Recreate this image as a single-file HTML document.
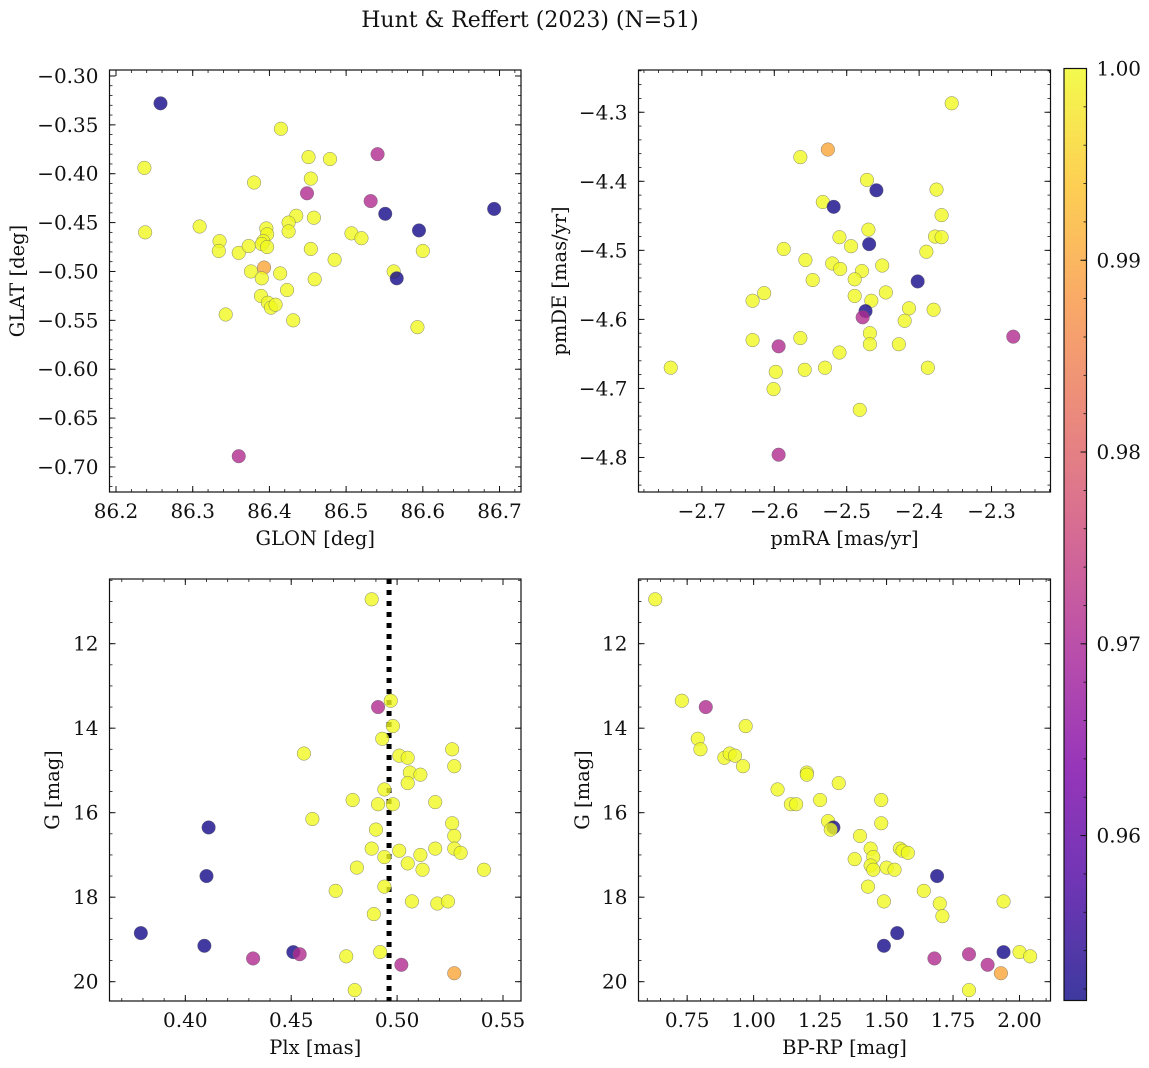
<!DOCTYPE html>
<html><head><meta charset="utf-8"><style>
body{margin:0;background:#fff;}
svg{display:block;font-family:"DejaVu Serif","Liberation Serif",serif;}
</style></head><body>
<svg id="fig" width="1149" height="1068" viewBox="0 0 1149 1068" xmlns="http://www.w3.org/2000/svg">
<text x="530" y="27" font-size="22" text-anchor="middle" fill="#111">Hunt &amp; Reffert (2023) (N=51)</text>
</svg>
<script>
// ---- Data ----
const glon = [86.258,86.237,86.238,86.309,86.335,86.334,86.360,86.373,86.380,86.415,86.451,86.479,86.454,86.449,86.541,86.532,86.551,86.595,86.693,86.600,86.562,86.566,86.593,86.507,86.520,86.485,86.454,86.459,86.458,86.435,86.425,86.425,86.396,86.397,86.392,86.390,86.397,86.376,86.393,86.390,86.414,86.389,86.398,86.402,86.408,86.423,86.431,86.343,86.360];
const glat = [-0.328,-0.394,-0.460,-0.454,-0.469,-0.479,-0.481,-0.474,-0.409,-0.354,-0.383,-0.385,-0.405,-0.420,-0.380,-0.428,-0.441,-0.458,-0.436,-0.479,-0.500,-0.507,-0.557,-0.461,-0.466,-0.488,-0.477,-0.508,-0.445,-0.443,-0.450,-0.459,-0.456,-0.462,-0.469,-0.472,-0.475,-0.500,-0.496,-0.507,-0.502,-0.525,-0.532,-0.537,-0.534,-0.519,-0.550,-0.544,-0.689];
const prob1 = [0.952,1,1,1,1,1,1,1,1,1,1,1,1,0.971,0.971,0.971,0.952,0.952,0.952,1,1,0.952,1,1,1,1,1,1,1,1,1,1,1,1,1,1,1,1,0.990,1,1,1,1,1,1,1,1,1,0.971];

const pmra = [-2.355,-2.526,-2.564,-2.472,-2.459,-2.376,-2.533,-2.518,-2.369,-2.470,-2.510,-2.494,-2.469,-2.378,-2.369,-2.390,-2.587,-2.557,-2.520,-2.509,-2.479,-2.451,-2.547,-2.489,-2.402,-2.614,-2.630,-2.489,-2.466,-2.446,-2.414,-2.380,-2.474,-2.478,-2.420,-2.468,-2.468,-2.428,-2.630,-2.564,-2.594,-2.270,-2.510,-2.743,-2.598,-2.558,-2.530,-2.388,-2.601,-2.482,-2.594];
const pmde = [-4.287,-4.354,-4.365,-4.398,-4.413,-4.412,-4.430,-4.437,-4.449,-4.470,-4.481,-4.494,-4.491,-4.480,-4.481,-4.502,-4.498,-4.514,-4.519,-4.527,-4.530,-4.522,-4.543,-4.542,-4.545,-4.562,-4.573,-4.566,-4.573,-4.561,-4.584,-4.586,-4.588,-4.597,-4.602,-4.620,-4.636,-4.636,-4.630,-4.627,-4.639,-4.625,-4.648,-4.670,-4.676,-4.673,-4.670,-4.670,-4.701,-4.731,-4.796];
const prob2 = [1,0.990,1,1,0.952,1,1,0.952,1,1,1,1,0.952,1,1,1,1,1,1,1,1,1,1,1,0.952,1,1,1,1,1,1,1,0.952,0.971,1,1,1,1,1,1,0.971,0.971,1,1,1,1,1,1,1,1,0.971];

const plx = [0.488,0.491,0.497,0.498,0.493,0.456,0.501,0.505,0.526,0.527,0.506,0.511,0.505,0.494,0.479,0.491,0.498,0.518,0.460,0.526,0.527,0.490,0.488,0.501,0.494,0.518,0.511,0.527,0.530,0.505,0.481,0.512,0.541,0.494,0.471,0.507,0.519,0.524,0.489,0.492,0.476,0.480,0.502,0.527,0.411,0.410,0.379,0.409,0.451,0.454,0.432];
const gmag3 = [10.95,13.5,13.35,13.95,14.25,14.6,14.65,14.7,14.5,14.9,15.05,15.1,15.3,15.45,15.7,15.8,15.8,15.75,16.15,16.25,16.55,16.4,16.85,16.9,17.05,16.85,17.0,16.85,16.95,17.2,17.3,17.35,17.35,17.75,17.85,18.1,18.15,18.1,18.4,19.3,19.4,20.2,19.6,19.8,16.35,17.5,18.85,19.15,19.3,19.35,19.45];
const prob3 = [1,0.971,1,1,1,1,1,1,1,1,1,1,1,1,1,1,1,1,1,1,1,1,1,1,1,1,1,1,1,1,1,1,1,1,1,1,1,1,1,1,1,1,0.971,0.990,0.952,0.952,0.952,0.952,0.952,0.971,0.971];
const plxLine = [0.4962];

const bprp = [0.63,0.73,0.82,0.97,0.79,0.80,0.89,0.91,0.93,0.96,1.20,1.20,1.32,1.09,1.14,1.16,1.25,1.48,1.48,1.28,1.30,1.29,1.40,1.44,1.45,1.38,1.44,1.45,1.50,1.53,1.55,1.56,1.58,1.43,1.49,1.64,1.69,1.70,1.71,1.94,1.54,1.49,1.68,1.81,1.88,1.93,1.94,2.00,2.04,1.81];
const gmag4 = [10.95,13.35,13.5,13.95,14.25,14.5,14.7,14.6,14.65,14.9,15.05,15.1,15.3,15.45,15.8,15.8,15.7,15.7,16.25,16.2,16.35,16.4,16.55,16.85,17.05,17.1,17.25,17.35,17.3,17.35,16.85,16.9,16.95,17.75,18.1,17.85,17.5,18.15,18.45,18.1,18.85,19.15,19.45,19.35,19.6,19.8,19.3,19.3,19.4,20.2];
const prob4 = [1,1,0.971,1,1,1,1,1,1,1,1,1,1,1,1,1,1,1,1,1,0.952,1,1,1,1,1,1,1,1,1,1,1,1,1,1,1,0.952,1,1,1,0.952,0.952,0.971,0.971,0.971,0.990,0.952,1,1,1];

const cbTicks = [1.00,0.99,0.98,0.97,0.96];
const cbMin = 0.9514, cbMax = 1.0;

// ---- Helpers ----
const NS = "http://www.w3.org/2000/svg";
const svg = document.getElementById('fig');
const TICKFS = 20, LABFS = 19.5;
function mk(tag, attrs, parent){ const e=document.createElementNS(NS,tag); for(const k in attrs) e.setAttribute(k,attrs[k]); (parent||svg).appendChild(e); return e; }
const plasmaStops=[[0,[13,8,135]],[0.125,[75,3,161]],[0.25,[125,3,168]],[0.375,[168,34,150]],[0.5,[203,70,121]],[0.625,[229,107,93]],[0.75,[248,148,65]],[0.875,[253,195,40]],[1,[240,249,33]]];
function plasma(t){ t=Math.max(0,Math.min(1,t)); for(let i=1;i<plasmaStops.length;i++){ if(t<=plasmaStops[i][0]){ const a=plasmaStops[i-1],b=plasmaStops[i]; const f=(t-a[0])/(b[0]-a[0]); const c=a[1].map((v,j)=>Math.round(v+(b[1][j]-v)*f)); return `rgb(${c[0]},${c[1]},${c[2]})`; } } return 'rgb(240,249,33)'; }
function pcolor(p){ return plasma((p-cbMin)/(cbMax-cbMin)); }
function fmt(v,d){ return (v<0?'\u2212':'')+Math.abs(v).toFixed(d); }

function panel(cfg){
  const {L,T,R,B,xmin,xmax,ymin,ymax,invertY} = cfg;
  const g = mk('g',{});
  
  
  const sx = v => L + (v-xmin)/(xmax-xmin)*(R-L);
  const sy = v => invertY ? T + (v-ymin)/(ymax-ymin)*(B-T) : B - (v-ymin)/(ymax-ymin)*(B-T);
  const eps=1e-9;
  function ticks(min,max,step){ const a=[]; for(let v=Math.ceil(min/step-eps)*step; v<=max+eps; v+=step) a.push(+v.toFixed(6)); return a; }
  ticks(xmin,xmax,cfg.xminor).forEach(v=>{ const x=sx(v); mk('line',{x1:x,x2:x,y1:B,y2:B-3,stroke:'#111','stroke-width':0.8},g); mk('line',{x1:x,x2:x,y1:T,y2:T+3,stroke:'#111','stroke-width':0.8},g); });
  ticks(ymin,ymax,cfg.yminor).forEach(v=>{ const y=sy(v); mk('line',{x1:L,x2:L+3,y1:y,y2:y,stroke:'#111','stroke-width':0.8},g); mk('line',{x1:R,x2:R-3,y1:y,y2:y,stroke:'#111','stroke-width':0.8},g); });
  ticks(xmin,xmax,cfg.xmajor).forEach(v=>{ const x=sx(v); mk('line',{x1:x,x2:x,y1:B,y2:B-6,stroke:'#111','stroke-width':1},g); mk('line',{x1:x,x2:x,y1:T,y2:T+6,stroke:'#111','stroke-width':1},g);
    const t=mk('text',{x:x,y:B+26,'font-size':TICKFS,'text-anchor':'middle',fill:'#111'},g); t.textContent=fmt(v,cfg.xdec);
      });
  ticks(ymin,ymax,cfg.ymajor).forEach(v=>{ const y=sy(v); mk('line',{x1:L,x2:L+6,y1:y,y2:y,stroke:'#111','stroke-width':1},g); mk('line',{x1:R,x2:R-6,y1:y,y2:y,stroke:'#111','stroke-width':1},g);
    const t=mk('text',{x:L-11,y:y+7,'font-size':TICKFS,'text-anchor':'end',fill:'#111'},g); t.textContent=fmt(v,cfg.ydec);
      });
  if(cfg.vline){ cfg.vline.forEach(v=>{ const l=mk('line',{x1:sx(v),x2:sx(v),y1:T,y2:B,stroke:'#000','stroke-width':5,'stroke-dasharray':'5 6'},g);
      }); }
  const cp = mk('clipPath',{id:cfg.name+'-clip'},g); mk('rect',{x:L,y:T,width:R-L,height:B-T},cp);
  const pg = mk('g',{'clip-path':`url(#${cfg.name}-clip)`},g);
  cfg.xs.forEach((xv,i)=>{ const c=mk('circle',{cx:sx(xv),cy:sy(cfg.ys[i]),r:6.8,fill:pcolor(cfg.ps[i]),'fill-opacity':0.8,stroke:'#666','stroke-width':0.5,'stroke-opacity':0.8},pg);
      });
  mk('rect',{x:L,y:T,width:R-L,height:B-T,fill:'none',stroke:'#111','stroke-width':1.2},g);
  const xl=mk('text',{x:(L+R)/2,y:B+53,'font-size':LABFS,'text-anchor':'middle',fill:'#111'},g); xl.textContent=cfg.xlabel;
   
  const yl=mk('text',{x:0,y:0,'font-size':LABFS,'text-anchor':'middle',fill:'#111',transform:`translate(${cfg.ylx},${(T+B)/2}) rotate(-90)`},g); yl.textContent=cfg.ylabel;
   
}

panel({name:'glon-glat-panel',L:109.5,T:70,R:521,B:492,xmin:86.1915,xmax:86.728,ymin:-0.7256,ymax:-0.2939,xmajor:0.1,xminor:0.02,ymajor:0.05,yminor:0.01,xdec:1,ydec:2,xs:glon,ys:glat,ps:prob1,xlabel:'GLON [deg]',ylabel:'GLAT [deg]',ylx:24});
panel({name:'proper-motion-panel',L:638.5,T:70,R:1050.5,B:492,xmin:-2.7875,xmax:-2.2186,ymin:-4.850,ymax:-4.2388,xmajor:0.1,xminor:0.02,ymajor:0.1,yminor:0.02,xdec:1,ydec:1,xs:pmra,ys:pmde,ps:prob2,xlabel:'pmRA [mas/yr]',ylabel:'pmDE [mas/yr]',ylx:566});
panel({name:'parallax-mag-panel',L:109.5,T:579,R:521,B:1001,xmin:0.3642,xmax:0.5585,ymin:10.469,ymax:20.457,invertY:true,xmajor:0.05,xminor:0.01,ymajor:2,yminor:0.5,xdec:2,ydec:0,xs:plx,ys:gmag3,ps:prob3,vline:plxLine,xlabel:'Plx [mas]',ylabel:'G [mag]',ylx:59});
panel({name:'cmd-panel',L:638.5,T:579,R:1050.5,B:1001,xmin:0.567,xmax:2.1165,ymin:10.469,ymax:20.457,invertY:true,xmajor:0.25,xminor:0.05,ymajor:2,yminor:0.5,xdec:2,ydec:0,xs:bprp,ys:gmag4,ps:prob4,xlabel:'BP-RP [mag]',ylabel:'G [mag]',ylx:589});

// ---- Colorbar ----
(function(){
  const L=1064,R=1086.5,T=68.5,B=1000.5;
  const g=mk('g',{});
  
  
  const grad=mk('linearGradient',{id:'cbgrad',x1:0,y1:1,x2:0,y2:0},g);
  for(let i=0;i<=16;i++){ const t=i/16; mk('stop',{offset:t,'stop-color':plasma(t)},grad); }
  mk('rect',{x:L,y:T,width:R-L,height:B-T,fill:'url(#cbgrad)','fill-opacity':0.8},g);
  const sy=v=>B-(v-cbMin)/(cbMax-cbMin)*(B-T);
  for(let v=0.952; v<=1.0001; v+=0.002){ const y=sy(v); mk('line',{x1:R,x2:R-3,y1:y,y2:y,stroke:'#111','stroke-width':0.8},g); }
  cbTicks.forEach(v=>{ const y=sy(v); mk('line',{x1:R,x2:R-6,y1:y,y2:y,stroke:'#111','stroke-width':1},g);
    const t=mk('text',{x:R+10,y:y+7,'font-size':TICKFS,fill:'#111'},g); t.textContent=v.toFixed(2);
      });
  mk('rect',{x:L,y:T,width:R-L,height:B-T,fill:'none',stroke:'#111','stroke-width':1.2},g);
})();
</script>
</body></html>
